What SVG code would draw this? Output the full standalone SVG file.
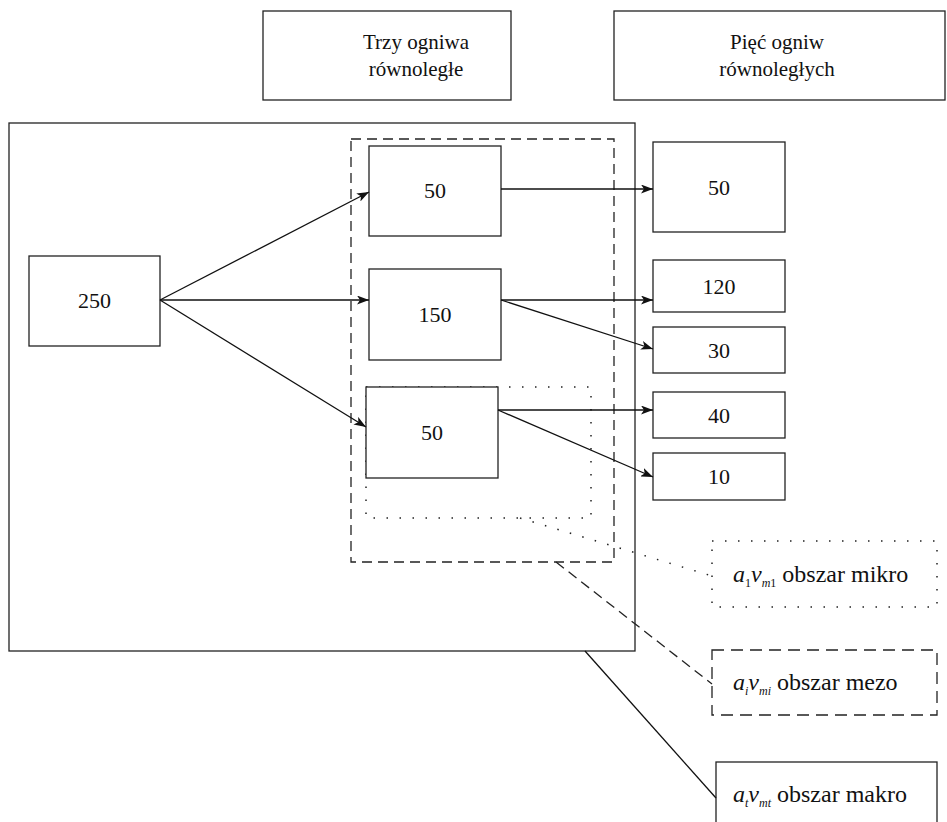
<svg xmlns="http://www.w3.org/2000/svg" width="947" height="822" viewBox="0 0 947 822" font-family="'Liberation Serif', 'DejaVu Serif', serif">
  <style>
    .box { fill: #fff; stroke: #222; stroke-width: 1.3; }
    .frame { fill: none; stroke: #222; stroke-width: 1.3; }
    .dash { fill: none; stroke: #222; stroke-width: 1.3; stroke-dasharray: 10 6; }
    .dot { fill: none; stroke: #222; stroke-width: 1.5; stroke-dasharray: 1.5 11.5; }
    .edge { fill: none; stroke: #111; stroke-width: 1.3; }
    .arrow { marker-end: url(#head); }
    text { font-family: 'Liberation Serif', 'DejaVu Serif', serif; fill: #111; }
    .head { font-size: 21px; text-anchor: middle; }
    .num { font-size: 22px; text-anchor: middle; }
    .lbl { font-size: 24px; }
    .it { font-style: italic; }
    .sub { font-size: 12px; }
  </style>
  <defs>
    <marker id="head" markerWidth="12" markerHeight="9" refX="12" refY="4.5" orient="auto" markerUnits="userSpaceOnUse">
      <path d="M0,0 L12,4.5 L0,9 L3,4.5 z" fill="#111"/>
    </marker>
  </defs>

  <!-- column headings -->
  <g id="heading-three">
    <rect class="box" x="263" y="11" width="248" height="89"/>
    <text class="head" x="416" y="49">Trzy ogniwa</text>
    <text class="head" x="416" y="76">równoległe</text>
  </g>
  <g id="heading-five">
    <rect class="box" x="614" y="11" width="331" height="89"/>
    <text class="head" x="777" y="49">Pięć ogniw</text>
    <text class="head" x="777" y="76">równoległych</text>
  </g>

  <!-- macro area frame -->
  <g id="macro-area">
    <rect class="frame" x="9" y="123" width="626" height="528"/>
  </g>
  <!-- meso area (dashed) -->
  <g id="meso-area">
    <rect class="dash" x="351" y="139" width="263" height="423"/>
  </g>
  <!-- micro area (dotted) -->
  <g id="micro-area">
    <rect class="dot" x="366" y="387" width="225" height="131"/>
  </g>

  <!-- source -->
  <g id="n250">
    <rect class="box" x="29" y="256" width="131" height="90"/>
    <text class="num" x="94.5" y="308">250</text>
  </g>

  <!-- three parallel cells -->
  <g id="n50a">
    <rect class="box" x="369" y="146" width="132" height="90"/>
    <text class="num" x="435" y="198">50</text>
  </g>
  <g id="n150">
    <rect class="box" x="369" y="269" width="132" height="91"/>
    <text class="num" x="435" y="322">150</text>
  </g>
  <g id="n50b">
    <rect class="box" x="366" y="387" width="132" height="91"/>
    <text class="num" x="432" y="440">50</text>
  </g>

  <!-- five parallel cells -->
  <g id="r50">
    <rect class="box" x="653" y="142" width="132" height="90"/>
    <text class="num" x="719" y="195">50</text>
  </g>
  <g id="r120">
    <rect class="box" x="653" y="260" width="132" height="52"/>
    <text class="num" x="719" y="294">120</text>
  </g>
  <g id="r30">
    <rect class="box" x="653" y="327" width="132" height="46"/>
    <text class="num" x="719" y="358">30</text>
  </g>
  <g id="r40">
    <rect class="box" x="653" y="392" width="132" height="46"/>
    <text class="num" x="719" y="423">40</text>
  </g>
  <g id="r10">
    <rect class="box" x="653" y="453" width="132" height="47"/>
    <text class="num" x="719" y="484">10</text>
  </g>

  <!-- area legends -->
  <g id="legend-micro">
    <rect class="dot" x="712" y="541" width="225" height="66"/>
    <text class="lbl" x="733" y="582"><tspan class="it">a</tspan><tspan class="sub" dy="5">1</tspan><tspan class="it" dy="-5">v</tspan><tspan class="sub it" dy="5">m</tspan><tspan class="sub">1</tspan><tspan dy="-5"> obszar mikro</tspan></text>
  </g>
  <g id="legend-meso">
    <rect class="dash" x="712" y="650" width="225" height="65" style="stroke-dasharray: 12 7"/>
    <text class="lbl" x="733" y="690"><tspan class="it">a</tspan><tspan class="sub it" dy="5">i</tspan><tspan class="it" dy="-5">v</tspan><tspan class="sub it" dy="5">mi</tspan><tspan dy="-5"> obszar mezo</tspan></text>
  </g>
  <g id="legend-macro">
    <rect class="box" x="716" y="762" width="221" height="80"/>
    <text class="lbl" x="733" y="802"><tspan class="it">a</tspan><tspan class="sub it" dy="5">t</tspan><tspan class="it" dy="-5">v</tspan><tspan class="sub it" dy="5">mt</tspan><tspan dy="-5"> obszar makro</tspan></text>
  </g>

  <!-- connectors -->
  <g id="connectors">
    <line class="edge arrow" x1="160" y1="300" x2="369" y2="192"/>
    <line class="edge arrow" x1="160" y1="300" x2="369" y2="300"/>
    <line class="edge arrow" x1="160" y1="300" x2="366" y2="427"/>
    <line class="edge arrow" x1="501" y1="189" x2="653" y2="189"/>
    <line class="edge arrow" x1="501" y1="300" x2="653" y2="300"/>
    <line class="edge arrow" x1="501" y1="300" x2="653" y2="349"/>
    <line class="edge arrow" x1="498" y1="410" x2="653" y2="410"/>
    <line class="edge arrow" x1="498" y1="410" x2="653" y2="477"/>
    <!-- legend leaders -->
    <line class="dot" x1="520" y1="518" x2="712" y2="576"/>
    <line class="dash" x1="556" y1="562" x2="712" y2="684"/>
    <line class="edge" x1="585" y1="651" x2="716" y2="798"/>
  </g>
</svg>
